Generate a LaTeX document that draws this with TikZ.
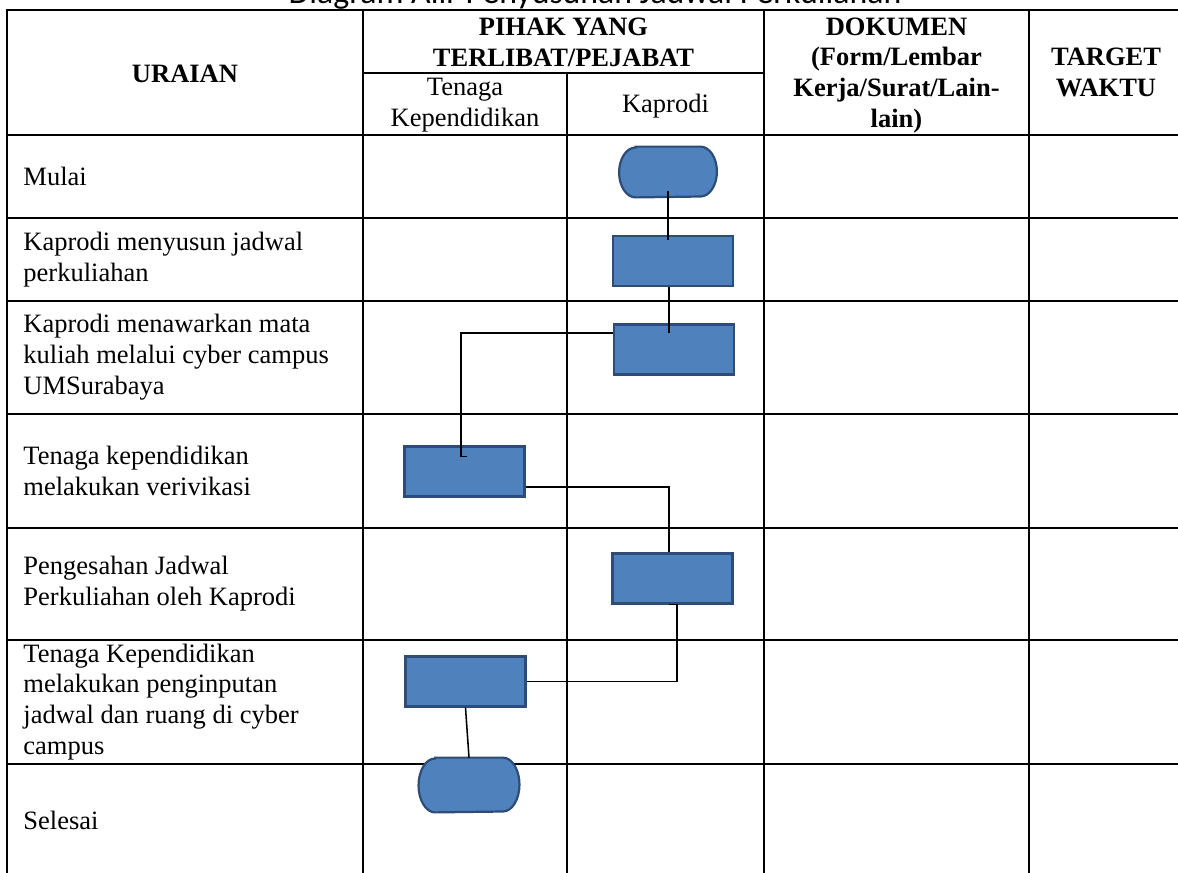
\documentclass[tikz,border=0pt]{standalone}
\usepackage{fontspec}
\setmainfont{Liberation Serif}
\newfontfamily\titlefont{Carlito}
\usetikzlibrary{calc}
\definecolor{boxfill}{HTML}{4F81BD}
\definecolor{boxline}{HTML}{2E4C78}
\newcommand{\termshape}[3]{% node, x radius, y radius
  \draw[termdraw] ($(#1.north west)+(#2,0)$) -- ($(#1.north east)+(-#2,0)$)
    arc[start angle=90,end angle=-90,x radius=#2,y radius=#3]
    -- ($(#1.south west)+(#2,0)$)
    arc[start angle=270,end angle=90,x radius=#2,y radius=#3] -- cycle;}
\begin{document}
\begin{tikzpicture}[x=0.4528pt,y=-0.4528pt,
  tbl/.style={line width=1.15pt,line cap=rect},
  conn/.style={line width=0.7pt,black},
  proc/.style={draw=boxline,fill=boxfill,line width=1pt,minimum width=54.3pt,minimum height=22.6pt,inner sep=0pt},
  termnode/.style={inner sep=0pt},
  termdraw/.style={draw=boxline,fill=boxfill,line width=1pt},
  body/.style={font=\fontsize{12}{14}\selectfont,inner sep=0pt},
  hdr/.style={font=\fontsize{12}{14}\selectfont\bfseries,inner sep=0pt,align=center},
  hdrn/.style={font=\fontsize{12}{14}\selectfont,inner sep=0pt,align=center},
  desc/.style={body,anchor=west,align=left}]
\useasboundingbox (0,0) rectangle (1178,872);
% title (cut off at the top, as in the reference)
\node[font=\titlefont\fontsize{15.3}{18}\selectfont,anchor=base,inner sep=0pt] (title) at (595,4) {Diagram Alir Penyusunan Jadwal Perkuliahan};
% table grid
\draw[tbl] (7,10) -- (1183,10);
\draw[tbl] (363,73) -- (764,73);
\foreach \yy in {135,218,301,414,528,640,764,876} \draw[tbl] (7,\yy) -- (1183,\yy);
\foreach \xx in {7,363,764,1029,1183} \draw[tbl] (\xx,10) -- (\xx,876);
\draw[tbl] (567,73) -- (567,876);
% header
\node[hdr] (hUraian) at (185,73.5) {URAIAN};
\node[hdr] (hPihak) at (563.5,42) {PIHAK YANG\\TERLIBAT/PEJABAT};
\node[hdrn] (hTenaga) at (465,105.5) {Tenaga\\Kependidikan};
\node[hdrn] (hKaprodi) at (665.5,106) {Kaprodi};
\node[hdr] (hDok) at (896.5,75.5) {DOKUMEN\\(Form/Lembar\\Kerja/Surat/Lain-\\lain)};
\node[hdr] (hTarget) at (1106,72) {TARGET\\WAKTU};
% descriptions
\node[desc] (d1) at (23,176.5) {Mulai};
\node[desc] (d2) at (23,259.5) {Kaprodi menyusun jadwal\\perkuliahan};
\node[desc] (d3) at (23,357.5) {Kaprodi menawarkan mata\\kuliah melalui cyber campus\\UMSurabaya};
\node[desc] (d4) at (23,471) {Tenaga kependidikan\\melakukan verivikasi};
\node[desc] (d5) at (23,584) {Pengesahan Jadwal\\Perkuliahan oleh Kaprodi};
\node[desc] (d6) at (23,702) {Tenaga Kependidikan\\melakukan penginputan\\jadwal dan ruang di cyber\\campus};
\node[desc] (d7) at (23,820) {Selesai};
% flow shapes
\node[termnode,minimum width=43.9pt,minimum height=22.6pt] (start) at (668,172) {};
\termshape{start}{7.5pt}{11.3pt}
\node[proc] (r1) at (673,261) {};
\node[proc] (r2) at (674,349.5) {};
\node[proc] (r3) at (464.5,471.5) {};
\node[proc] (r4) at (672.5,578.5) {};
\node[proc] (r5) at (465.5,681.5) {};
\node[termnode,minimum width=45.3pt,minimum height=24.4pt] (finish) at (469,785) {};
\termshape{finish}{7.5pt}{12.2pt}
% connectors
\draw[conn] ($(start.south)+(0,-6)$) -- ($(start.south |- r1.north)+(0,5)$);
\draw[conn] ($(r1.south)+(-4,0)$) -- ($(r1.south |- r2.north)+(-4,10)$);
\draw[conn] ($(r2.west)+(0,-16.5)$) -| ($(r3.north)+(-3.5,11)$) -- ++(6,0);
\draw[conn] ($(r3.east)+(0,15.5)$) -| ($(r4.north)+(-3.5,0)$);
\draw[conn] ($(r4.south)+(-3.5,0)$) -- ++(8,0) |- (r5.east);
\draw[conn] (r5.south) -- (finish.north);
\end{tikzpicture}
\end{document}
